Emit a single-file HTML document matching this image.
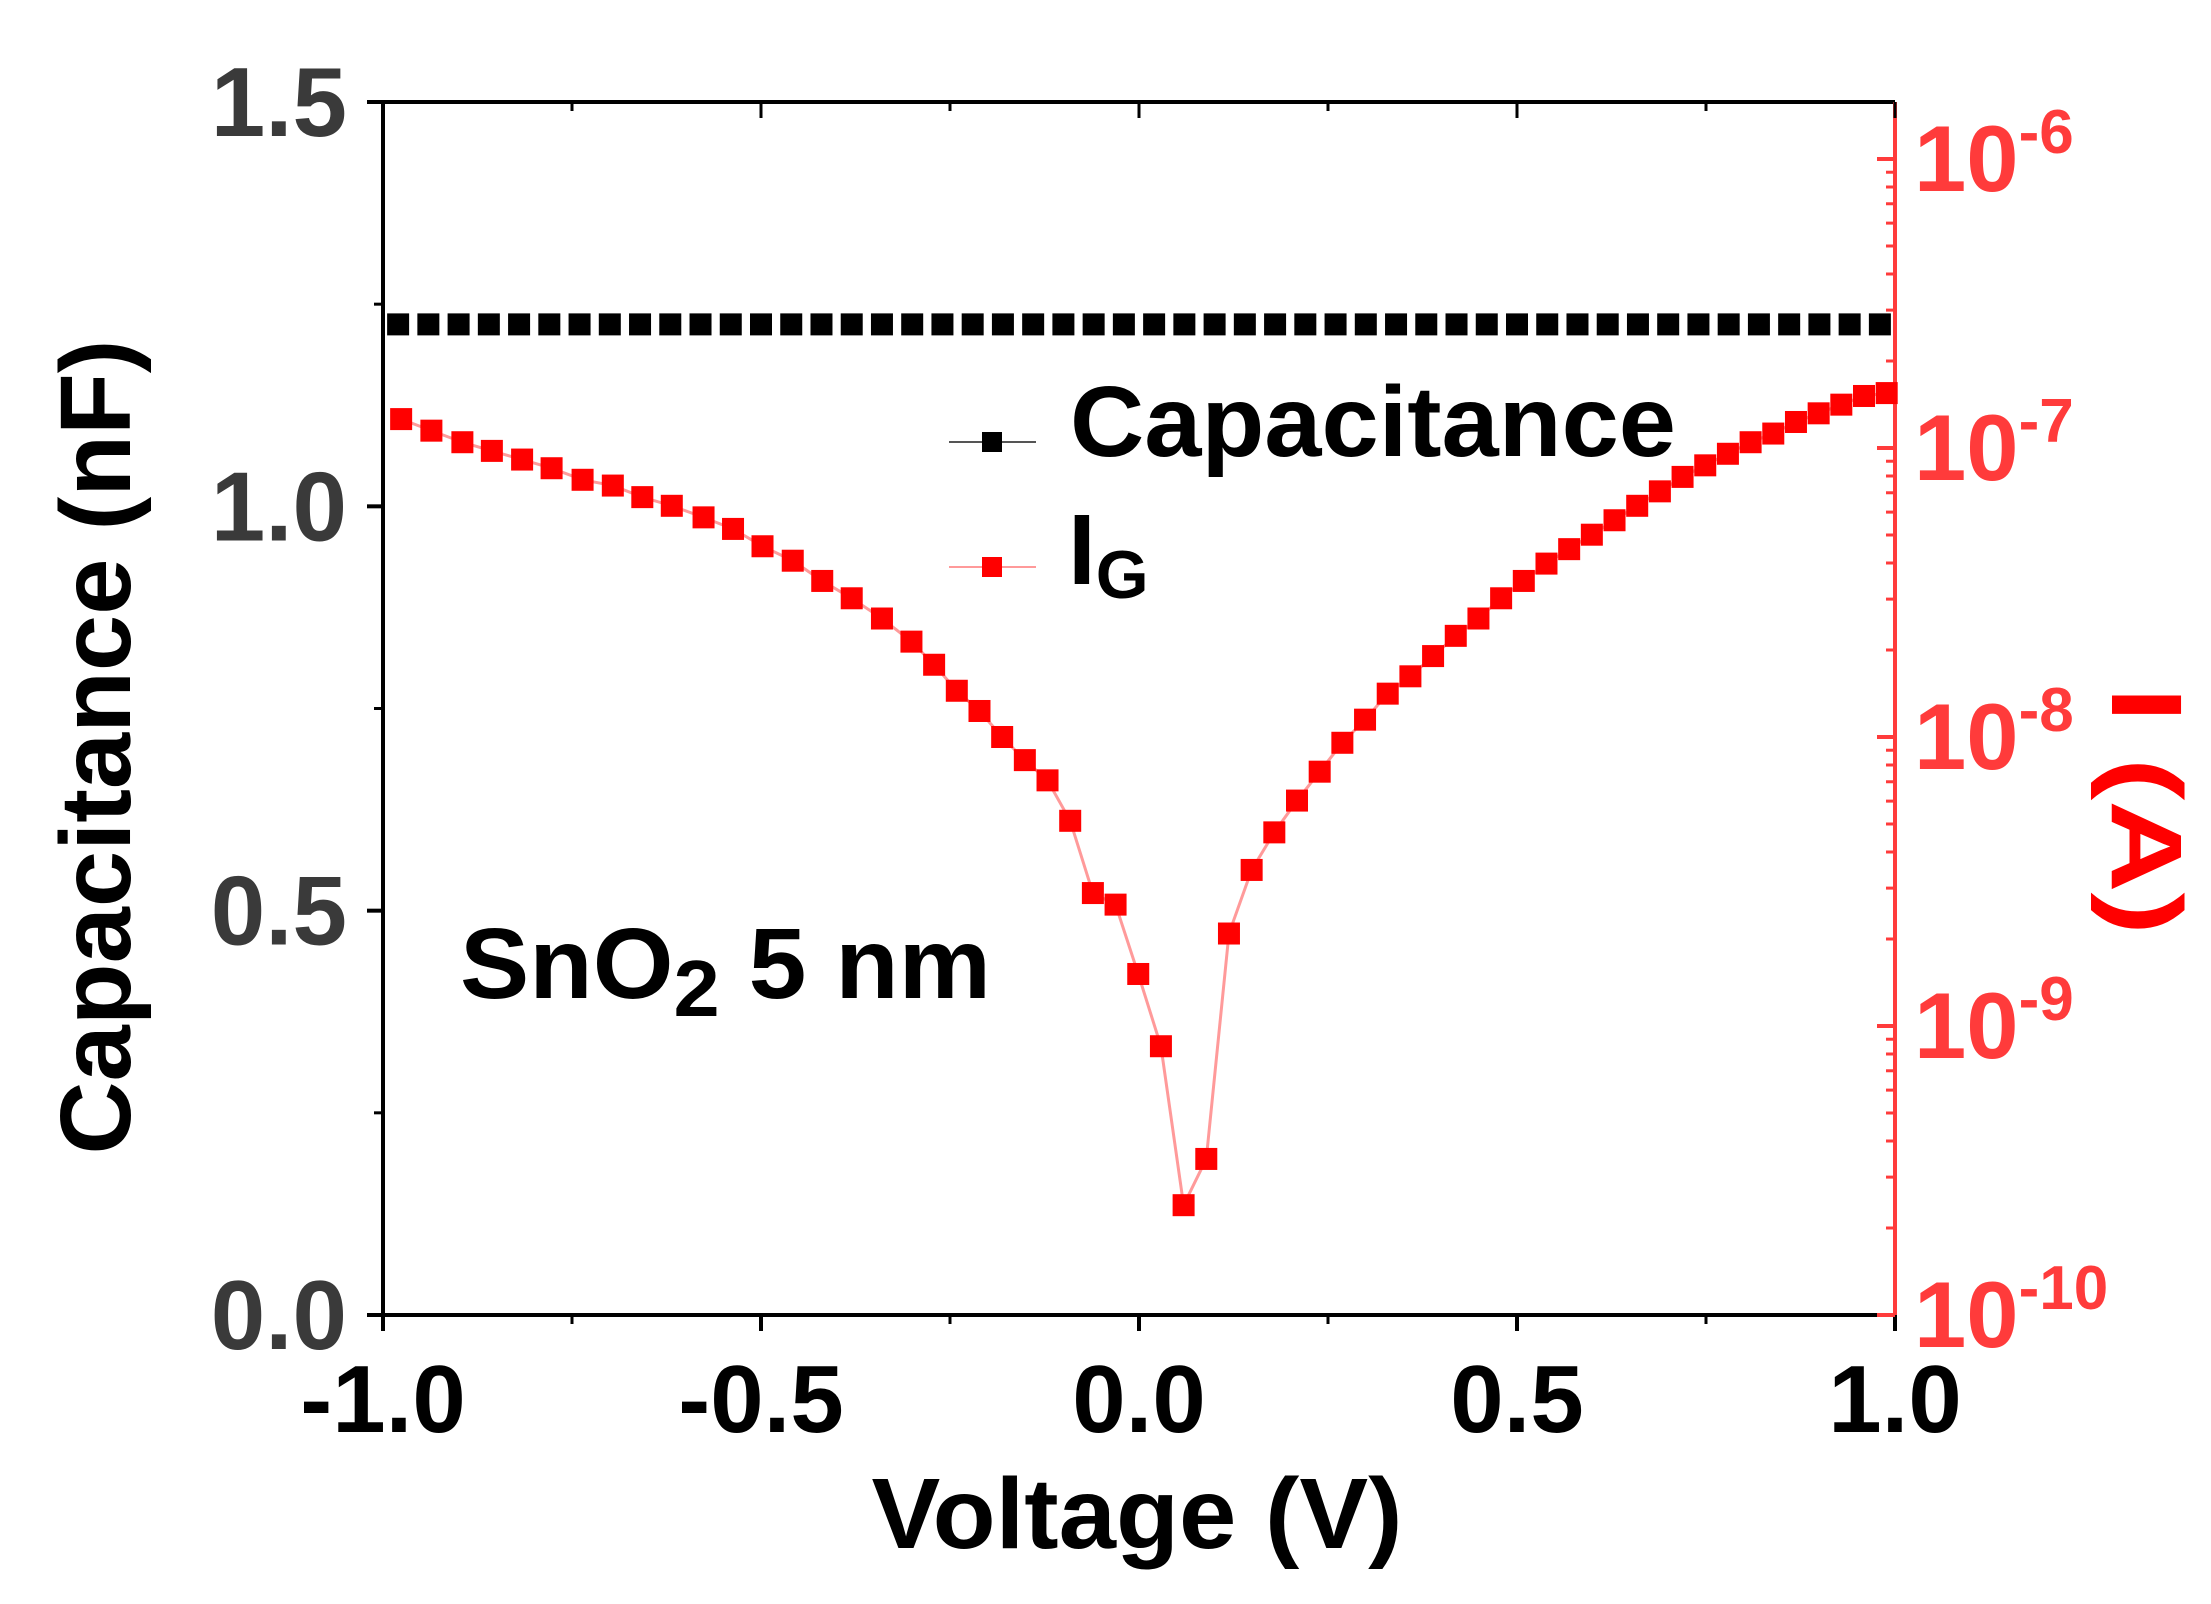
<!DOCTYPE html>
<html><head><meta charset="utf-8"><style>
html,body{margin:0;padding:0;background:#fff;}
svg{display:block;font-family:"Liberation Sans",Arial,sans-serif;font-weight:bold;}
</style></head><body>
<svg id="chart" width="2211" height="1604" viewBox="0 0 2211 1604"></svg>
<script>
const capVoltage = [-0.98,-0.94,-0.9,-0.86,-0.82,-0.78,-0.74,-0.7,-0.66,-0.62,-0.58,-0.54,-0.5,-0.46,-0.42,-0.38,-0.34,-0.3,-0.26,-0.22,-0.18,-0.14,-0.1,-0.06,-0.02,0.02,0.06,0.1,0.14,0.18,0.22,0.26,0.3,0.34,0.38,0.42,0.46,0.5,0.54,0.58,0.62,0.66,0.7,0.74,0.78,0.82,0.86,0.9,0.94,0.98];
const capValues = capVoltage.map(() => 1.225);
const igVoltage = [-0.976,-0.936,-0.895,-0.856,-0.816,-0.777,-0.736,-0.696,-0.657,-0.618,-0.576,-0.537,-0.498,-0.458,-0.419,-0.38,-0.34,-0.301,-0.271,-0.241,-0.211,-0.181,-0.151,-0.121,-0.091,-0.061,-0.031,-0.001,0.029,0.059,0.089,0.119,0.149,0.179,0.209,0.239,0.269,0.299,0.329,0.359,0.389,0.419,0.449,0.479,0.509,0.539,0.569,0.599,0.629,0.659,0.689,0.719,0.749,0.779,0.809,0.839,0.869,0.899,0.929,0.959,0.989];
const igLog10 = [-6.90,-6.94,-6.98,-7.01,-7.04,-7.07,-7.11,-7.13,-7.17,-7.20,-7.24,-7.28,-7.34,-7.39,-7.46,-7.52,-7.59,-7.67,-7.75,-7.84,-7.91,-8.00,-8.08,-8.15,-8.29,-8.54,-8.58,-8.82,-9.07,-9.62,-9.46,-8.68,-8.46,-8.33,-8.22,-8.12,-8.02,-7.94,-7.85,-7.79,-7.72,-7.65,-7.59,-7.52,-7.46,-7.40,-7.35,-7.30,-7.25,-7.20,-7.15,-7.10,-7.06,-7.02,-6.98,-6.95,-6.91,-6.88,-6.85,-6.82,-6.81];
const xTicks = [-1.0,-0.5,0.0,0.5,1.0];
const xTickLabels = ["-1.0","-0.5","0.0","0.5","1.0"];
const yTicks = [0,0.5,1.0,1.5];
const yTickLabels = ["0.0","0.5","1.0","1.5"];
const rTicks = [-10,-9,-8,-7,-6];
const rTickExp = ["-10","-9","-8","-7","-6"];

const L=383,R=1895,T=102,B=1315;
const X=v=>L+(v+1)/2*(R-L);
const Y=c=>B-c/1.5*(B-T);
const DEC=289;
const YR=lg=>B-(lg+10)*DEC;
const NS="http://www.w3.org/2000/svg";
const svg=document.getElementById('chart');
function mk(tag,attrs,parent){const e=document.createElementNS(NS,tag);for(const k in attrs)e.setAttribute(k,attrs[k]);(parent||svg).appendChild(e);return e;}

const frame=mk('path',{d:`M${L},${B} L${L},${T} L${R},${T}`,stroke:'#000','stroke-width':4,fill:'none'});


const xAxis=mk('line',{x1:L,y1:B,x2:R,y2:B,stroke:'#000','stroke-width':4});


const rAxis=mk('line',{x1:R,y1:T,x2:R,y2:B,stroke:'#ff3b3b','stroke-width':4});



xTicks.forEach((v,i)=>{
  mk('line',{x1:X(v),y1:B,x2:X(v),y2:B+16,stroke:'#000','stroke-width':4});
  mk('line',{x1:X(v),y1:T,x2:X(v),y2:T+16,stroke:'#000','stroke-width':3});
  if(i<xTicks.length-1){const m=X(v+0.25);
    mk('line',{x1:m,y1:B,x2:m,y2:B+9,stroke:'#000','stroke-width':3});
    mk('line',{x1:m,y1:T,x2:m,y2:T+9,stroke:'#000','stroke-width':3});}
  const t=mk('text',{x:X(v),y:1432,'text-anchor':'middle','font-size':96,fill:'#000'});
  t.textContent=xTickLabels[i];
  
  
});
yTicks.forEach((c,i)=>{
  mk('line',{x1:L-16,y1:Y(c),x2:L,y2:Y(c),stroke:'#000','stroke-width':4});
  if(i<yTicks.length-1)mk('line',{x1:L-9,y1:Y(c+0.25),x2:L,y2:Y(c+0.25),stroke:'#000','stroke-width':3});
  const t=mk('text',{x:347,y:Y(c)+34,'text-anchor':'end','font-size':98,fill:'#3a3a3a'});
  t.textContent=yTickLabels[i];
  
  
});
rTicks.forEach((lg,i)=>{
  mk('line',{x1:R-18,y1:YR(lg),x2:R,y2:YR(lg),stroke:'#ff3b3b','stroke-width':4});
  for(let k=2;k<=9;k++){const y=YR(lg+Math.log10(k));if(y>=T)mk('line',{x1:R-9,y1:y,x2:R,y2:y,stroke:'#ff3b3b','stroke-width':3});}
  const t=mk('text',{x:1914,y:YR(lg)+32,'font-size':94,fill:'#ff3b3b'});
  t.textContent='10';
  const s=mk('tspan',{dy:-38,'font-size':62},t);s.textContent=rTickExp[i];
  
  
});

const igPath=mk('polyline',{points:igVoltage.map((v,i)=>`${X(v)},${YR(igLog10[i])}`).join(' '),stroke:'#ff9a9a','stroke-width':3,fill:'none'});


igVoltage.forEach((v,i)=>{
  const r=mk('rect',{x:X(v)-11,y:YR(igLog10[i])-11,width:22,height:22,fill:'#ff0000'});
  
  
});
capVoltage.forEach((v,i)=>{
  const r=mk('rect',{x:X(v)-11,y:Y(capValues[i])-11,width:22,height:22,fill:'#000'});
  
  
});

const lg1=mk('g',{});


mk('line',{x1:949,y1:442,x2:1036,y2:442,stroke:'#555','stroke-width':2},lg1);
mk('rect',{x:982,y:432,width:20,height:20,fill:'#000'},lg1);
const lt1=mk('text',{x:1070,y:456,'font-size':100,fill:'#000',textLength:606,lengthAdjust:'spacingAndGlyphs'},lg1);lt1.textContent='Capacitance';
const lg2=mk('g',{});


mk('line',{x1:949,y1:567,x2:1036,y2:567,stroke:'#ff9a9a','stroke-width':2},lg2);
mk('rect',{x:982,y:557,width:20,height:20,fill:'#ff0000'},lg2);
const lt2=mk('text',{x:1068,y:584,'font-size':100,fill:'#000'},lg2);lt2.textContent='I';
const sub=mk('tspan',{dy:14,'font-size':68},lt2);sub.textContent='G';

const ann=mk('text',{x:460,y:998,'font-size':100,fill:'#000',textLength:531,lengthAdjust:'spacingAndGlyphs'});


ann.textContent='SnO';
const s2=mk('tspan',{dy:18,'font-size':80},ann);s2.textContent='2';
const s3=mk('tspan',{dy:-18},ann);s3.textContent=' 5 nm';

const xt=mk('text',{x:1137,y:1548,'text-anchor':'middle','font-size':100,fill:'#000',textLength:531,lengthAdjust:'spacingAndGlyphs'});
xt.textContent='Voltage (V)';


const yt=mk('text',{x:0,y:0,'text-anchor':'middle','font-size':100,fill:'#000',textLength:815,lengthAdjust:'spacingAndGlyphs',transform:'translate(130,747) rotate(-90)'});
yt.textContent='Capacitance (nF)';


const rt=mk('text',{x:0,y:0,'text-anchor':'middle','font-size':100,fill:'#ff0000',textLength:248,lengthAdjust:'spacingAndGlyphs',transform:'translate(2112,811) rotate(90)'});
rt.textContent='I (A)';


</script>
</body></html>
